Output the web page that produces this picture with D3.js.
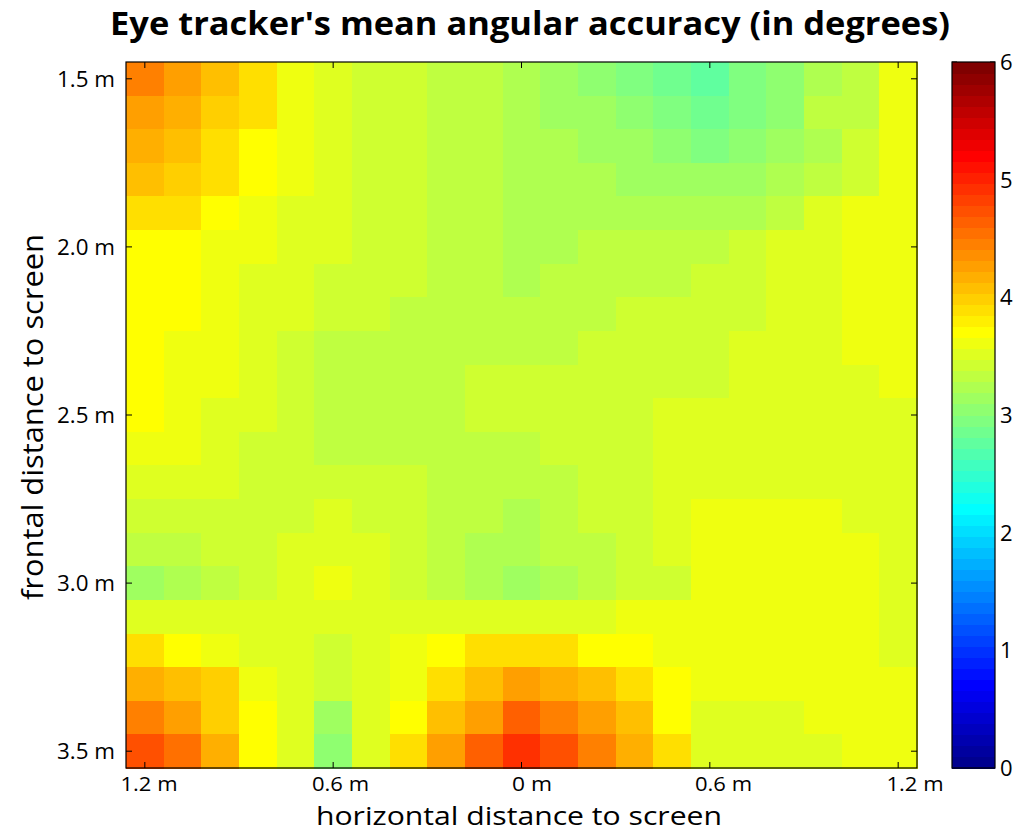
<!DOCTYPE html>
<html>
<head>
<meta charset="utf-8">
<script src="https://cdn.jsdelivr.net/npm/d3@7"></script>
<style>
  body { margin: 0; background: #fff; }
  svg { display: block; }
</style>
</head>
<body>
<div id="chart"></div>
<script>
const width = 1015;
const height = 833;

// horizontal positions (m) of the 21 grid columns, left to right
const xPositions = [-1.2, -1.08, -0.96, -0.84, -0.72, -0.6, -0.48, -0.36, -0.24, -0.12, 0,
    0.12, 0.24, 0.36, 0.48, 0.6, 0.72, 0.84, 0.96, 1.08, 1.2];
// frontal distances (m) of the 21 grid rows, top to bottom
const yPositions = [1.5, 1.6, 1.7, 1.8, 1.9, 2.0, 2.1, 2.2, 2.3, 2.4, 2.5,
    2.6, 2.7, 2.8, 2.9, 3.0, 3.1, 3.2, 3.3, 3.4, 3.5];

// mean angular accuracy (deg), one row per frontal distance
const accuracy = [
    [4.45,4.27,4.05,3.89,3.61,3.52,3.42,3.42,3.33,3.33,3.23,3.14,3.05,2.95,2.86,2.77,2.95,3.05,3.23,3.33,3.61],
    [4.27,4.17,3.98,3.85,3.61,3.52,3.42,3.42,3.33,3.33,3.23,3.14,3.14,3.05,2.95,2.86,2.95,3.05,3.33,3.33,3.61],
    [4.17,4.05,3.89,3.70,3.61,3.52,3.42,3.42,3.33,3.33,3.23,3.23,3.14,3.14,3.05,2.95,3.05,3.14,3.23,3.42,3.61],
    [4.05,3.98,3.89,3.70,3.61,3.52,3.42,3.42,3.33,3.33,3.23,3.23,3.23,3.14,3.14,3.14,3.14,3.23,3.33,3.42,3.61],
    [3.89,3.89,3.70,3.61,3.52,3.52,3.42,3.42,3.33,3.33,3.23,3.23,3.23,3.23,3.23,3.23,3.23,3.33,3.52,3.61,3.61],
    [3.70,3.70,3.61,3.61,3.52,3.52,3.42,3.42,3.33,3.33,3.23,3.23,3.33,3.33,3.33,3.33,3.42,3.52,3.52,3.61,3.61],
    [3.70,3.70,3.61,3.52,3.52,3.42,3.42,3.42,3.33,3.33,3.23,3.33,3.33,3.33,3.33,3.42,3.42,3.52,3.52,3.61,3.61],
    [3.70,3.70,3.61,3.52,3.52,3.42,3.42,3.33,3.33,3.33,3.33,3.33,3.33,3.42,3.42,3.42,3.42,3.52,3.52,3.61,3.61],
    [3.70,3.61,3.61,3.52,3.42,3.33,3.33,3.33,3.33,3.33,3.33,3.33,3.42,3.42,3.42,3.42,3.52,3.52,3.52,3.61,3.61],
    [3.70,3.61,3.61,3.52,3.42,3.33,3.33,3.33,3.33,3.42,3.42,3.42,3.42,3.42,3.42,3.42,3.52,3.52,3.52,3.52,3.61],
    [3.70,3.61,3.52,3.52,3.42,3.33,3.33,3.33,3.33,3.42,3.42,3.42,3.42,3.42,3.52,3.52,3.52,3.52,3.52,3.52,3.52],
    [3.61,3.61,3.52,3.42,3.42,3.33,3.33,3.33,3.33,3.33,3.33,3.42,3.42,3.42,3.52,3.52,3.52,3.52,3.52,3.52,3.52],
    [3.52,3.52,3.52,3.42,3.42,3.42,3.42,3.42,3.33,3.33,3.33,3.33,3.42,3.42,3.52,3.52,3.52,3.52,3.52,3.52,3.52],
    [3.42,3.42,3.42,3.42,3.42,3.52,3.42,3.42,3.33,3.33,3.23,3.33,3.42,3.42,3.52,3.61,3.61,3.61,3.61,3.52,3.52],
    [3.33,3.33,3.42,3.42,3.52,3.52,3.52,3.42,3.33,3.23,3.23,3.33,3.33,3.42,3.52,3.61,3.61,3.61,3.61,3.61,3.52],
    [3.14,3.23,3.33,3.42,3.52,3.61,3.52,3.42,3.33,3.23,3.14,3.23,3.33,3.42,3.42,3.61,3.61,3.61,3.61,3.61,3.52],
    [3.52,3.52,3.52,3.52,3.52,3.52,3.52,3.52,3.52,3.52,3.52,3.52,3.52,3.61,3.61,3.61,3.61,3.61,3.61,3.61,3.52],
    [3.89,3.70,3.61,3.52,3.52,3.42,3.52,3.61,3.70,3.89,3.89,3.89,3.70,3.70,3.61,3.61,3.61,3.61,3.61,3.61,3.52],
    [4.17,4.05,3.95,3.61,3.52,3.42,3.52,3.61,3.85,4.05,4.27,4.17,4.05,3.85,3.70,3.61,3.61,3.61,3.61,3.61,3.61],
    [4.45,4.27,3.98,3.70,3.52,3.14,3.52,3.70,4.05,4.30,4.60,4.45,4.27,4.05,3.70,3.52,3.52,3.52,3.61,3.61,3.61],
    [4.73,4.50,4.17,3.70,3.52,3.05,3.52,3.89,4.27,4.60,4.92,4.73,4.45,4.17,3.89,3.52,3.52,3.52,3.52,3.61,3.61]
];

const xTicks = [-1.2, -0.6, 0, 0.6, 1.2];
const xTickLabels = ["1.2 m", "0.6 m", "0 m", "0.6 m", "1.2 m"];
const yTicks = [1.5, 2.0, 2.5, 3.0, 3.5];
const yTickLabels = ["1.5 m", "2.0 m", "2.5 m", "3.0 m", "3.5 m"];
const colorTicks = [0, 1, 2, 3, 4, 5, 6];

// matlab style jet(64)
const jet = m => {
    const n = Math.ceil(m / 4);
    const u = [];
    for (let k = 1; k <= n; k++) u.push(k / n);
    for (let k = 1; k < n; k++) u.push(1);
    for (let k = n; k >= 1; k--) u.push(k / n);
    const off = Math.ceil(n / 2) - (m % 4 === 1 ? 1 : 0);
    const at = k => (k >= 1 && k <= u.length) ? u[k - 1] : 0;
    return d3.range(1, m + 1).map(i => d3.rgb(
        Math.round(at(i - off - n) * 255),
        Math.round(at(i - off) * 255),
        Math.round(at(i - off + n) * 255)).formatHex());
};
const palette = jet(64);

const plot = {left: 126, right: 917, top: 62, bottom: 768};
const cbar = {left: 952, right: 995};
const font = "Open Sans, sans-serif";

const x = d3.scaleLinear().domain([-1.26, 1.26]).range([plot.left, plot.right]);
const y = d3.scaleLinear().domain([1.45, 3.55]).range([plot.top, plot.bottom]);
// tick labels sit on a slightly wider spacing than the ticks themselves
const xLabel = d3.scaleLinear().domain([-1.2, 1.2]).range([149, 915]);
const color = d3.scaleQuantize().domain([0, 6]).range(palette);
const cy = d3.scaleLinear().domain([0, 6]).range([plot.bottom, plot.top]);

const svg = d3.select("#chart").append("svg")
    .attr("width", width)
    .attr("height", height);

svg.append("rect").attr("width", width).attr("height", height).attr("fill", "#fff");

const cells = accuracy.flatMap((row, r) => row.map((v, c) => ({x: xPositions[c], y: yPositions[r], v})));
const cw = x(0.06) - x(-0.06);
const ch = y(0.05) - y(-0.05);

svg.append("g")
    .selectAll("rect")
    .data(cells)
    .join("rect")
    .attr("x", d => x(d.x) - cw / 2)
    .attr("y", d => y(d.y) - ch / 2)
    .attr("width", cw + 0.5)
    .attr("height", ch + 0.5)
    .attr("fill", d => color(d.v))
    .attr("shape-rendering", "crispEdges");

// frame + inward ticks
svg.append("rect")
    .attr("x", plot.left).attr("y", plot.top)
    .attr("width", plot.right - plot.left).attr("height", plot.bottom - plot.top)
    .attr("fill", "none").attr("stroke", "#000").attr("stroke-width", 1.2);

const tl = 6;
const tickG = svg.append("g").attr("stroke", "#000").attr("stroke-width", 1);
xTicks.forEach(t => {
    tickG.append("line").attr("x1", x(t)).attr("x2", x(t)).attr("y1", plot.bottom).attr("y2", plot.bottom - tl);
    tickG.append("line").attr("x1", x(t)).attr("x2", x(t)).attr("y1", plot.top).attr("y2", plot.top + tl);
});
yTicks.forEach(t => {
    tickG.append("line").attr("x1", plot.left).attr("x2", plot.left + tl).attr("y1", y(t)).attr("y2", y(t));
    tickG.append("line").attr("x1", plot.right).attr("x2", plot.right - tl).attr("y1", y(t)).attr("y2", y(t));
});

svg.append("g")
    .selectAll("text")
    .data(xTicks)
    .join("text")
    .attr("x", d => xLabel(d))
    .attr("y", 791)
    .attr("text-anchor", "middle")
    .attr("font-family", font)
    .attr("font-size", 20)
    .attr("textLength", (d, i) => xTickLabels[i].length > 3 ? 57 : 40)
    .attr("lengthAdjust", "spacingAndGlyphs")
    .text((d, i) => xTickLabels[i]);

svg.append("g")
    .selectAll("text")
    .data(yTicks)
    .join("text")
    .attr("x", 115)
    .attr("y", d => y(d) + 8)
    .attr("text-anchor", "end")
    .attr("font-family", font)
    .attr("font-size", 21)
    .attr("textLength", 58)
    .attr("lengthAdjust", "spacingAndGlyphs")
    .text((d, i) => yTickLabels[i]);

// colorbar
svg.append("g")
    .selectAll("rect")
    .data(palette)
    .join("rect")
    .attr("x", cbar.left)
    .attr("width", cbar.right - cbar.left)
    .attr("y", (d, i) => cy((i + 1) * 6 / 64))
    .attr("height", cy(0) - cy(6 / 64) + 0.5)
    .attr("fill", d => d)
    .attr("shape-rendering", "crispEdges");

svg.append("rect")
    .attr("x", cbar.left).attr("y", plot.top)
    .attr("width", cbar.right - cbar.left).attr("height", plot.bottom - plot.top)
    .attr("fill", "none").attr("stroke", "#000").attr("stroke-width", 1.2);

colorTicks.forEach(t => {
    tickG.append("line").attr("x1", cbar.left).attr("x2", cbar.left + 5).attr("y1", cy(t)).attr("y2", cy(t));
    tickG.append("line").attr("x1", cbar.right).attr("x2", cbar.right - 5).attr("y1", cy(t)).attr("y2", cy(t));
});

svg.append("g")
    .selectAll("text")
    .data(colorTicks)
    .join("text")
    .attr("x", 1000)
    .attr("y", d => cy(d) + 8)
    .attr("font-family", font)
    .attr("font-size", 22)
    .text(d => d);

// titles
svg.append("text")
    .attr("x", 530)
    .attr("y", 35)
    .attr("text-anchor", "middle")
    .attr("font-family", font)
    .attr("font-weight", "bold")
    .attr("font-size", 33)
    .attr("textLength", 840)
    .attr("lengthAdjust", "spacingAndGlyphs")
    .text("Eye tracker's mean angular accuracy (in degrees)");

svg.append("text")
    .attr("x", 519)
    .attr("y", 825)
    .attr("text-anchor", "middle")
    .attr("font-family", font)
    .attr("font-size", 25)
    .attr("textLength", 406)
    .attr("lengthAdjust", "spacingAndGlyphs")
    .text("horizontal distance to screen");

svg.append("text")
    .attr("transform", "translate(43,417) rotate(-90)")
    .attr("text-anchor", "middle")
    .attr("font-family", font)
    .attr("font-size", 29)
    .attr("textLength", 366)
    .attr("lengthAdjust", "spacingAndGlyphs")
    .text("frontal distance to screen");
</script>
</body>
</html>
